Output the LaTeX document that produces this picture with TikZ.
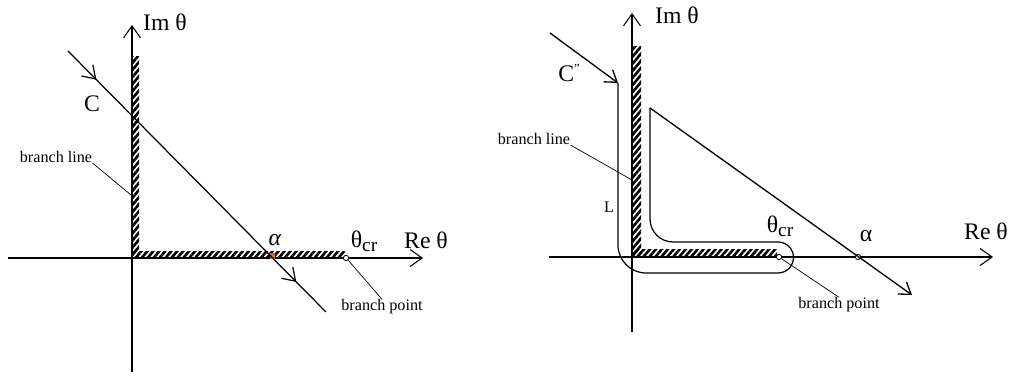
\documentclass[tikz,border=0pt]{standalone}
\usepackage{fontspec}
\setmainfont{Liberation Serif}
\usepackage{xcolor}
\usetikzlibrary{arrows.meta,positioning,decorations.markings,patterns.meta}

\definecolor{alphamark}{RGB}{214,104,58}

\tikzset{
  axis/.style={line width=0.6pt,-{Straight Barb[length=2.4mm,width=3.4mm]}},
  ctr/.style={line width=0.7pt},
  ctrtip/.style={line width=0.75pt,-{Straight Barb[length=2.2mm,width=3mm]}},
  cut/.style={pattern={Lines[angle=50,distance=2.6pt,line width=1.5pt]},pattern color=black},
  lead/.style={line width=0.4pt},
  bpt/.style={circle,draw,line width=0.5pt,fill=white,inner sep=0pt,minimum size=3pt},
  lbl/.style={font=\fontsize{13.5}{15}\selectfont,inner sep=0pt},
  smalllbl/.style={font=\fontsize{9.2}{11}\selectfont,inner sep=0pt},
  midarrows/.style={decoration={markings,
      mark=at position 0.11 with {\arrow{Straight Barb[length=2.4mm,width=3.2mm]}},
      mark=at position 0.885 with {\arrow{Straight Barb[length=2.4mm,width=3.2mm]}}},
    postaction={decorate}}
}

\begin{document}
\begin{tikzpicture}[x=0.02cm,y=0.02cm]
  \useasboundingbox (0,0) rectangle (1011,377);

  % left plane
  \coordinate (w1) at (8,119);   \coordinate (e1) at (423,119);
  \coordinate (s1) at (132,5);   \coordinate (n1) at (132,352);
  \draw[axis] (w1) -- (e1);
  \draw[axis] (s1) -- (n1);
  \fill[cut] (132,118) rectangle (139,320);
  \fill[cut] (132,118) rectangle (345,125);
  \fill[alphamark] (270,118) rectangle (275,124);
  \node[bpt] (bp1) at (346,119) {};
  \coordinate (ca) at (68,326);  \coordinate (cb) at (326,65);
  \draw[ctr,midarrows] (ca) -- (cb);
  \node[lbl] (im1) at (165,355) {Im θ};
  \node[lbl] (re1) at (426,137) {Re θ};
  \node[lbl] (c1) at (92,273) {C};
  \node[lbl] (al1) at (275,137) {\textit{α}};
  \node[lbl] (cr1) at (364,136) {θ\raisebox{-0.35ex}{\fontsize{11}{12}\selectfont cr}};
  \node[smalllbl] (bl1) at (56,220) {branch line};
  \node[smalllbl] (bpl1) at (382,70) {branch point};
  \coordinate (bl1end) at (131,182);
  \draw[lead] (bl1.south east) -- (bl1end);
  \draw[lead] (bp1.-45) -- (bpl1.north);

  % right plane
  \coordinate (w2) at (549,120); \coordinate (e2) at (993,120);
  \coordinate (s2) at (632,45);  \coordinate (n2) at (632,364);
  \draw[axis] (w2) -- (e2);
  \draw[axis] (s2) -- (n2);
  \fill[cut] (632,120) rectangle (641,330);
  \fill[cut] (632,120) rectangle (777,127);
  \node[bpt] (bp2) at (779,120) {};
  \node[bpt] (al2pt) at (858,120) {};
  \coordinate (in0) at (550,344); \coordinate (in1) at (618,294);
  \coordinate (out0) at (650,269); \coordinate (out1) at (912,82);
  \draw[ctrtip] (in0) -- (in1);
  \draw[ctr] (in1) -- (618,132) arc[start angle=180,end angle=270,radius=28]
    -- (778,104) arc[start angle=-90,end angle=90,radius=15.5]
    -- (673,135) arc[start angle=270,end angle=180,radius=23] -- (out0);
  \draw[ctrtip] (out0) -- (out1);
  \node[lbl] (im2) at (677,362) {Im θ};
  \node[lbl] (re2) at (986,146) {Re θ};
  \node[lbl] (c2) at (569,304) {C\raisebox{0.9ex}{\fontsize{7}{8}\selectfont ”}};
  \node[lbl] (al2) at (866,141) {α};
  \node[lbl] (cr2) at (780,151) {θ\raisebox{-0.35ex}{\fontsize{11}{12}\selectfont cr}};
  \node[smalllbl] (L2) at (609,170) {L};
  \node[smalllbl] (bl2) at (534,238) {branch line};
  \node[smalllbl] (bpl2) at (839,72) {branch point};
  \coordinate (bl2end) at (632,197);
  \draw[lead] (bl2.south east) -- (bl2end);
  \draw[lead] (bp2.-35) -- (bpl2.north);
\end{tikzpicture}
\end{document}
